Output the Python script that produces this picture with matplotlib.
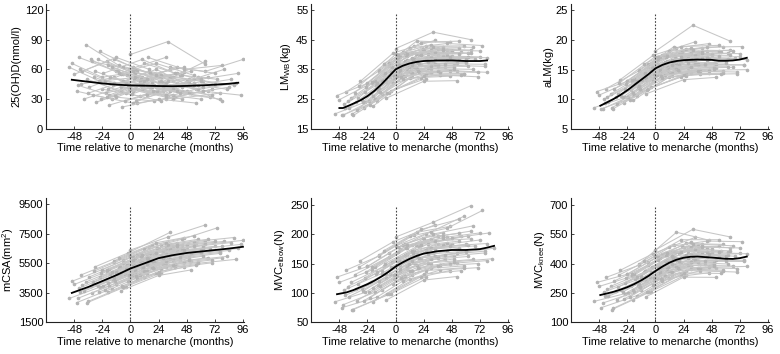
import numpy as np
import matplotlib
matplotlib.use("Agg")
import matplotlib.pyplot as plt

plt.rcParams['font.family'] = ['Liberation Sans', 'DejaVu Sans']
plt.rcParams['font.size'] = 8
plt.rcParams['axes.unicode_minus'] = False
plt.rcParams['mathtext.default'] = 'regular'

# ---- shared visit times (months relative to menarche), 3 visits per girl ----
visit_times = [
    [-52, -26, 4], [-48, -20, 10], [-46, -16, 14], [-44, -12, 18], [-42, -14, 16],
    [-40, -8, 22], [-38, -10, 20], [-37, -4, 26], [-35, -6, 24], [-33, -1, 30],
    [-32, 2, 28], [-30, -2, 34], [-29, 4, 32], [-27, 6, 38], [-26, 2, 36],
    [-24, 8, 40], [-23, 10, 42], [-21, 6, 44], [-19, 12, 46], [-18, 14, 44],
    [-17, 10, 48], [-15, 16, 50], [-14, 18, 46], [-12, 20, 52], [-11, 16, 54],
    [-9, 22, 56], [-8, 24, 52], [-6, 26, 58], [-5, 20, 60], [-3, 28, 62],
    [-2, 30, 58], [0, 32, 64], [1, 28, 66], [3, 34, 68], [4, 36, 64],
    [6, 38, 70], [8, 40, 72], [10, 36, 76], [12, 44, 74], [14, 46, 78],
    [17, 48, 80], [20, 52, 84], [23, 54, 88], [26, 58, 90], [30, 62, 94],
    [34, 64, 96], [-34, -8, 18], [-19, 4, 36],
    [-50, -24, 6], [-45, -18, 12], [-41, -12, 16], [-36, -6, 22], [-31, 0, 30],
    [-28, 4, 34], [-25, 2, 30], [-22, 8, 38], [-16, 14, 44], [-13, 18, 50],
    [-10, 22, 54], [-7, 24, 56], [-4, 26, 60], [-1, 30, 62], [2, 32, 66],
    [5, 36, 70], [9, 40, 72], [11, 42, 76], [15, 46, 78], [19, 50, 82],
    [22, 54, 86], [28, 60, 92], [-43, -14, 14], [-20, 10, 40],
]
N = None

vitd_values = [
    [62, 48, 40], [55, 68, 52], [38, 30, 44], [72, 58, 50], [45, 52, 36],
    [30, 42, 38], [85, 64, 55], [50, 36, 28], [42, 55, 47], [68, 60, 72],
    [34, 26, 38], [58, 46, 60], [27, 40, 33], [48, 52, 41], [78, 62, 48],
    [40, 33, 46], [56, 70, 54], [36, 44, 30], [64, 50, 57], [24, 35, 42],
    [52, 45, 38], [44, 58, 50], [70, 55, 62], [32, 28, 36], [58, 42, 46],
    [46, 60, 40], [38, 52, 58], [62, 48, 44], [28, 36, 30], [54, 40, 48],
    [42, 34, 52], [75, 88, 65], [35, 46, 38], [50, 38, 32], [60, 52, 68],
    [26, 32, 40], [48, 56, 45], [40, 30, 36], [66, 54, 50], [34, 44, 28],
    [56, 48, 60], [44, 36, 42], [38, 50, 44], [52, 40, 46], [30, 38, 34],
    [62, 58, 70], [70, 55, 46], [40, 52, 34],
    [66, 52, 58], [44, 34, 48], [58, 72, 60], [36, 48, 42], [52, 40, 34],
    [70, 56, 52], [30, 38, 46], [48, 44, 56], [62, 50, 38], [34, 42, 36],
    [56, 66, 54], [22, 30, 26], [46, 54, 48], [40, 32, 42], [58, 48, 52],
    [28, 40, 34], [50, 62, 56], [44, 36, 30], [72, 60, 64], [38, 46, 40],
    [54, 44, 50], [42, 50, 56], [60, 46, 50], [32, 44, 38],
]

lmwb_values = [
    [20.0, 24.0, 33.5], [24.8, 30.5, 39.5], [19.5, 24.4, 32.5], [23.2, 30.7, 38.2], [27.5, 34.5, 43.0],
    [22.0, 30.6, 36.5], [25.3, 33.0, 39.9], [20.0, 27.8, 31.9], [27.2, 36.0, 41.6], [21.3, 31.8, 35.0],
    [25.3, 36.4, 39.1], [31.0, 40.5, 44.8], [24.6, 35.4, 37.6], [21.9, 32.6, 34.2], [27.4, 37.2, 39.9],
    [30.2, 40.6, 42.6], [24.2, 34.6, 35.7], [27.0, 36.1, 38.0], [22.7, 32.1, 32.7], [31.2, 40.5, 41.4],
    [29.7, 38.1, 39.5], [27.6, 35.8, 36.5], [34.9, 44.5, 44.1], [26.8, 34.2, 34.6], [30.8, 37.7, 38.4],
    [33.7, 40.4, 40.7], [25.3, 31.0, 31.2], [37.0, 42.8, 42.9], [32.3, 36.8, 37.2], [35.9, 40.3, 40.4],
    [30.3, 33.8, 33.6], [42.0, 47.5, 45.0], [32.8, 35.3, 35.0], [36.3, 38.8, 38.5], [39.3, 41.8, 41.5],
    [31.6, 33.1, 32.5], [37.8, 39.5, 39.2], [35.3, 36.5, 36.0], [42.2, 43.7, 43.0], [33.8, 34.6, 34.0],
    [40.3, 41.0, N], [36.8, 37.2, N], [41.9, 42.2, N], [33.3, 33.4, N], [39.1, 39.0, N],
    [40.7, 40.5, N], [23.9, 31.6, 37.4], [25.9, 33.9, 36.1],
    [26.2, 30.3, 40.7], [19.5, 25.1, 34.0], [24.3, 31.4, 38.8], [19.5, 27.1, 32.0], [29.5, 40.0, 43.3],
    [24.0, 34.7, 36.9], [29.0, 38.6, 41.4], [23.0, 32.8, 34.2], [30.4, 38.9, 39.9], [27.4, 35.2, 35.7],
    [36.9, 44.0, 44.5], [27.0, 32.8, 33.0], [34.1, 38.6, 38.6], [32.8, 36.1, 36.0], [39.7, 42.6, 42.4],
    [32.3, 34.3, 34.0], [39.8, 41.4, 41.2], [35.8, 36.9, 36.7], [38.3, 39.1, 38.9], [34.6, 35.0, N],
    [39.9, 40.2, N], [37.6, 37.5, N], [21.9, 28.6, 36.4], [30.9, 40.3, 41.8],
]

alm_values = [
    [8.6, 10.3, 14.4], [10.7, 13.1, 17.4], [8.4, 10.5, 14.0], [10.0, 13.2, 16.8], [11.8, 14.8, 18.9],
    [9.5, 13.2, 16.1], [10.9, 14.2, 17.6], [8.6, 12.0, 14.0], [11.7, 15.5, 18.3], [9.2, 13.7, 15.4],
    [10.9, 15.7, 17.2], [13.3, 17.4, 19.7], [10.6, 15.2, 16.5], [9.4, 14.0, 15.0], [11.8, 16.0, 17.6],
    [13.0, 17.5, 18.7], [10.4, 14.9, 15.7], [11.6, 15.5, 16.7], [9.8, 13.8, 14.4], [13.4, 17.4, 18.2],
    [12.8, 16.4, 17.4], [11.9, 15.4, 16.1], [15.0, 18.7, 19.4], [11.5, 14.7, 15.2], [13.2, 16.2, 16.9],
    [14.5, 17.4, 17.9], [10.9, 13.3, 13.7], [15.9, 18.4, 18.9], [13.9, 15.8, 16.4], [15.4, 17.3, 17.8],
    [13.0, 14.5, 14.8], [18.1, 22.5, 19.8], [14.1, 15.2, 15.4], [15.6, 16.7, 16.9], [16.9, 18.0, 18.3],
    [13.6, 14.2, 14.3], [16.3, 17.0, 17.2], [15.2, 15.7, 15.8], [18.1, 18.8, 18.9], [14.5, 14.9, 15.0],
    [17.3, 17.6, N], [15.8, 16.0, N], [18.0, 18.1, N], [14.3, 14.4, N], [16.8, 16.8, N],
    [17.5, 17.4, N], [10.3, 13.6, 16.1], [11.1, 14.6, 15.9],
    [11.3, 13.0, 17.5], [8.4, 10.8, 14.6], [10.4, 13.5, 16.7], [8.4, 11.7, 13.8], [12.7, 17.2, 18.6],
    [10.3, 14.9, 15.9], [12.5, 16.6, 17.8], [9.9, 14.1, 14.7], [13.1, 16.7, 17.2], [11.8, 15.1, 15.4],
    [15.9, 18.9, 19.1], [11.6, 14.1, 14.2], [14.7, 16.6, 16.6], [14.1, 15.5, 15.5], [17.1, 18.3, 18.2],
    [13.9, 14.7, 14.6], [17.1, 17.8, 17.7], [15.4, 15.9, 15.8], [16.5, 16.8, 16.7], [14.9, 15.1, N],
    [17.2, 17.3, N], [16.2, 16.1, N], [9.4, 12.3, 15.7], [13.3, 17.3, 18.0],
]

mcsa_values = [
    [3130, 3900, 4900], [4070, 4950, 5960], [2840, 3790, 4780], [3810, 4830, 5810], [4720, 5610, 6600],
    [3605, 4635, 5595], [4240, 5155, 6120], [2835, 3930, 4845], [4585, 5550, 6500], [3480, 4545, 5430],
    [4225, 5360, 6115], [5270, 6205, 7600], [4070, 5165, 5915], [3550, 4650, 5425], [4560, 5490, 6375],
    [5080, 6150, 6880], [3945, 5045, 5735], [4400, 5300, 6150], [3555, 4590, 5265], [5085, 6145, 6735],
    [4795, 5695, 6460], [4340, 5360, 5955], [5675, 6715, 7215], [4115, 5145, 5645], [4800, 5685, 6315],
    [5255, 6245, 6725], [3660, 4680, 5060], [5745, 6730, 7130], [4805, 5600, 6170], [5390, 6310, 6705],
    [4320, 5235, 5570], [6400, 7280, 8100], [4680, 5465, 5890], [5330, 6145, 6500], [5880, 6700, 6980],
    [4455, 5230, 5540], [5630, 6360, 6660], [5175, 5790, 6170], [6475, 7125, 7900], [4975, 5590, 5865],
    [6170, 6720, 6990], [5600, 6100, 6370], [6535, 6965, 7245], [5105, 5505, 5770], [6145, 6510, 6780],
    [6470, 6785, 7055], [3965, 4830, 5675], [4140, 4905, 5725],
    [4280, 5080, 6080], [3130, 3980, 4980], [4030, 4960, 5880], [2925, 3925, 4815], [4975, 6010, 6860],
    [3975, 5035, 5820], [4850, 5750, 6535], [3715, 4720, 5425], [4895, 5885, 6475], [4275, 5285, 5825],
    [5870, 6895, 7355], [3955, 4940, 5360], [5100, 6015, 6430], [4740, 5625, 5990], [5945, 6760, 7130],
    [4615, 5400, 5735], [5985, 6685, 6985], [5270, 5930, 6235], [5785, 6370, 6645], [5180, 5695, 5965],
    [6180, 6640, 6905], [5855, 6235, 6505], [3580, 4505, 5430], [5080, 6085, 6750],
]

elbow_values = [
    [85, 101, 138], [118, 139, 176], [75, 93, 130], [105, 133, 168], [139, 163, 199],
    [94, 125, 158], [118, 145, 179], [72, 99, 128], [131, 161, 192], [87, 124, 149],
    [116, 155, 176], [155, 187, 216], [108, 148, 168], [87, 127, 147], [126, 160, 184],
    [145, 184, 202], [101, 141, 157], [118, 152, 172], [85, 123, 138], [144, 182, 195],
    [132, 166, 183], [114, 151, 163], [165, 203, 213], [105, 142, 151], [132, 163, 176],
    [150, 183, 196], [88, 122, 128], [168, 200, 230], [133, 159, 169], [152, 184, 197],
    [116, 142, 146], [195, 220, 248], [129, 151, 157], [154, 175, 180], [175, 196, 205],
    [120, 139, 143], [164, 182, 190], [146, 161, 168], [196, 210, 240], [137, 150, 155],
    [182, 193, 202], [159, 168, 176], [194, 201, N], [138, 143, N], [177, 181, N],
    [188, 192, N], [106, 133, 162], [109, 138, 159],
    [127, 145, 182], [80, 101, 138], [111, 138, 171], [72, 98, 128], [144, 180, 204],
    [103, 142, 163], [136, 170, 191], [92, 129, 147], [135, 172, 185], [112, 148, 158],
    [172, 208, 225], [99, 132, 138], [144, 173, 183], [131, 157, 162], [178, 200, 214],
    [126, 146, 150], [177, 194, 202], [150, 165, 171], [168, 180, 184], [143, 153, 158],
    [181, 188, N], [166, 171, N], [96, 121, 155], [144, 181, 197],
]

knee_values = [
    [208, 247, 347], [284, 335, 442], [176, 237, 343], [255, 326, 429], [330, 392, 496],
    [234, 314, 409], [285, 355, 455], [166, 257, 343], [312, 393, 485], [217, 312, 389],
    [280, 384, 449], [366, 451, 534], [264, 370, 428], [219, 328, 380], [303, 395, 463],
    [346, 456, 500], [250, 364, 400], [288, 383, 432], [217, 328, 354], [347, 459, 482],
    [322, 420, 452], [284, 391, 407], [397, 560, 519], [265, 372, 379], [324, 419, 434],
    [365, 465, 465], [231, 331, 330], [409, 503, 498], [330, 411, 415], [382, 465, 459],
    [292, 372, 367], [470, 575, 536], [325, 393, 388], [382, 446, 438], [430, 490, 481],
    [311, 364, 357], [412, 456, 452], [376, 413, 411], [487, 515, 512], [359, 381, 386],
    [459, 474, N], [411, 418, N], [488, 488, N], [365, 362, N], [449, 443, N],
    [473, 465, N], [259, 330, 418], [266, 347, 408],
    [304, 346, 448], [199, 253, 361], [270, 337, 435], [172, 255, 345], [342, 437, 510],
    [255, 358, 418], [328, 417, 483], [230, 335, 380], [331, 437, 460], [279, 385, 396],
    [416, 522, 522], [257, 353, 350], [356, 442, 437], [329, 406, 398], [434, 500, 491],
    [324, 380, 375], [444, 484, 480], [385, 416, 417], [427, 447, 451], [376, 386, N],
    [461, 460, N], [427, 421, N], [235, 298, 398], [346, 452, 489],
]

# ---- mean trajectories (black curves) ----
vitd_mean_t = [-50, -36, -24, -12, 0, 12, 24, 36, 48, 60, 72, 84, 92]
vitd_mean_v = [49.5, 47.5, 45.8, 44.6, 43.8, 43.5, 43.2, 43.0, 43.3, 43.8, 44.5, 45.5, 46.5]

lmwb_mean_t = [-48, -45, -40, -36, -30, -24, -18, -12, -6, 0, 6, 12, 18, 24, 36, 48, 60, 72, 78]
lmwb_mean_v = [22.0, 22.0, 22.8, 23.5, 24.6, 26.0, 27.8, 30.0, 32.5, 35.0, 36.2, 37.0, 37.5, 37.8, 38.0, 38.0, 37.8, 37.8, 38.0]

alm_mean_t = [-47, -42, -36, -30, -24, -18, -12, -6, 0, 6, 12, 18, 24, 36, 48, 54, 60, 66, 72, 78]
alm_mean_v = [8.9, 9.4, 10.0, 10.7, 11.5, 12.4, 13.3, 14.2, 15.2, 15.8, 16.2, 16.45, 16.6, 16.7, 16.65, 16.5, 16.5, 16.55, 16.7, 17.0]

mcsa_mean_t = [-50, -36, -24, -12, 0, 12, 24, 36, 48, 60, 72, 84, 96]
mcsa_mean_v = [3500, 3900, 4300, 4700, 5150, 5500, 5850, 6050, 6200, 6300, 6400, 6500, 6620]

elbow_mean_t = [-50, -42, -36, -30, -24, -18, -12, -6, 0, 6, 12, 18, 24, 36, 48, 60, 72, 78, 84]
elbow_mean_v = [98, 101, 105, 110, 115, 121, 128, 136, 145, 152, 158, 163, 167, 171, 173, 173, 174.5, 177, 180]

knee_mean_t = [-47, -42, -36, -30, -24, -18, -12, -6, 0, 6, 12, 18, 24, 30, 36, 48, 60, 66, 72, 78]
knee_mean_v = [240, 247, 256, 267, 280, 296, 315, 337, 362, 385, 405, 420, 430, 435, 436, 431, 425, 424, 428, 436]

ylabels = ['25(OH)D(nmol/l)', 'LM$_{WB}$(kg)', 'aLM(kg)',
           'mCSA(mm$^2$)', 'MVC$_{elbow}$(N)', 'MVC$_{knee}$(N)']
yticks_list = [[0, 30, 60, 90, 120], [15, 25, 35, 45, 55], [5, 10, 15, 20, 25],
               [1500, 3500, 5500, 7500, 9500], [50, 100, 150, 200, 250], [100, 250, 400, 550, 700]]
ylims = [(0, 126), (15, 57), (5, 26.1), (1500, 9950), (50, 262), (100, 737)]
xticks = [-48, -24, 0, 24, 48, 72, 96]

panels = [
    (vitd_values, vitd_mean_t, vitd_mean_v),
    (lmwb_values, lmwb_mean_t, lmwb_mean_v),
    (alm_values, alm_mean_t, alm_mean_v),
    (mcsa_values, mcsa_mean_t, mcsa_mean_v),
    (elbow_values, elbow_mean_t, elbow_mean_v),
    (knee_values, knee_mean_t, knee_mean_v),
]

fig = plt.figure(figsize=(7.8, 3.54), dpi=100)
lefts = [0.059, 0.399, 0.732]
bottoms = [0.636, 0.089]
w, h = 0.254, 0.353

times = np.array(visit_times, dtype=float)
for i, (vals, mt, mv) in enumerate(panels):
    r, c = divmod(i, 3)
    ax = fig.add_axes([lefts[c], bottoms[r], w, h])
    v = np.array([[np.nan if x is None else x for x in row] for row in vals], dtype=float)
    for k in range(len(times)):
        ok = ~np.isnan(v[k])
        ax.plot(times[k][ok], v[k][ok], color='#c6c6c6', lw=0.75, marker='o',
                ms=1.6, mec='#b4b4b4', mfc='#b4b4b4', zorder=1)
    ax.plot(mt, mv, color='black', lw=1.3, zorder=3)
    ax.axvline(0, ymin=0, ymax=0.93, color='#444444', lw=0.8, ls=(0, (1.5, 1.5)), zorder=2)
    ax.set_xlim(-72, 97)
    ax.set_ylim(*ylims[i])
    ax.set_xticks(xticks)
    ax.set_xticklabels([str(t) for t in xticks])
    ax.set_yticks(yticks_list[i])
    ax.set_yticklabels([str(t) for t in yticks_list[i]])
    for s in ['top', 'right']:
        ax.spines[s].set_visible(False)
    for s in ['left', 'bottom']:
        ax.spines[s].set_linewidth(0.8)
        ax.spines[s].set_color('#222222')
    ax.tick_params(direction='in', length=2.5, width=0.6, pad=2, colors='#222222', labelcolor='black')
    ax.set_xlabel('Time relative to menarche (months)', labelpad=1)
    ax.set_ylabel(ylabels[i], labelpad=2)

fig.savefig('out.png', dpi=100)
